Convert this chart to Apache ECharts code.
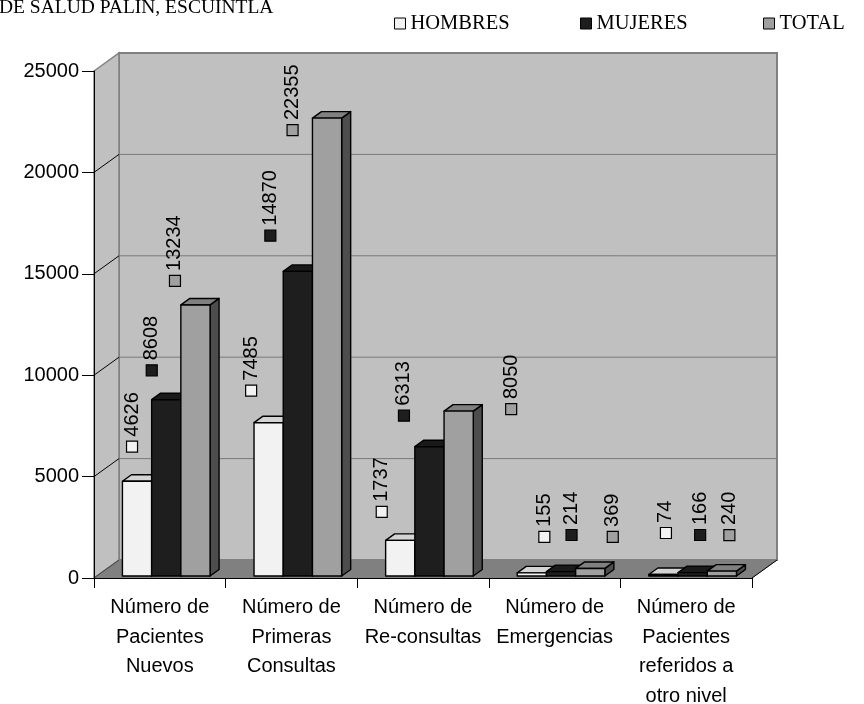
<!DOCTYPE html>
<html>
<head>
<meta charset="utf-8">
<script src="https://cdn.jsdelivr.net/npm/echarts@6/dist/echarts.min.js"></script>
<style>
  html, body { margin: 0; padding: 0; background: #ffffff; }
  #chart { width: 864px; height: 704px; }
</style>
</head>
<body>
<div id="chart"></div>
<script>
// ---- data ----
const categories = [
  'Número de\nPacientes\nNuevos',
  'Número de\nPrimeras\nConsultas',
  'Número de\nRe-consultas',
  'Número de\nEmergencias',
  'Número de\nPacientes\nreferidos a\notro nivel'
];
const seriesNames = ['HOMBRES', 'MUJERES', 'TOTAL'];
const hombres = [4626, 7485, 1737, 155, 74];
const mujeres = [8608, 14870, 6313, 214, 166];
const total = [13234, 22355, 8050, 369, 240];
const yTicks = [0, 5000, 10000, 15000, 20000, 25000];
const titleText = 'DE SALUD PALIN, ESCUINTLA';

// ---- layout & style ----
const seriesValues = [hombres, mujeres, total];
const DEPTH_X = 25, DEPTH_Y = 18;      // depth of the walls / floor
const BAR_DX = 9, BAR_DY = 6.5;        // depth of each column
const BAR_LEAD = 0.216, BAR_FRAC = 0.222;
const BAR_LIFT = 2, BAR_SCALE = 1.01;
const SANS = '"Liberation Sans", Arial, sans-serif';
const SERIF = '"Liberation Serif", "Times New Roman", serif';
const faces = [
  { front: '#f2f2f2', top: '#d4d4d4', side: '#b0b0b0' },
  { front: '#1e1e1e', top: '#1a1a1a', side: '#111111' },
  { front: '#a0a0a0', top: '#808080', side: '#4d4d4d' }
];
// value-label nudges (square centre relative to the column's top-front centre)
const labelOffsets = [
  [[-5, -34.6], [-17.5, -32], [-18.5, -28.6], [12.5, -36], [2.5, -41.5]],
  [[-14.5, -29.4], [-27.5, -35.7], [-25.5, -31], [10.5, -36.6], [7.5, -37.6]],
  [[-20.5, -24], [-34.5, 12], [52.5, -2], [22.5, -31.5], [7.5, -36]]
];
const legendLeft = [389, 575, 758];

function barBox(api, cat, s, v) {
  const base = api.coord([cat, 0]);
  const top = api.coord([cat, v]);
  const band = api.size([1, 0])[0];
  const w = band * BAR_FRAC;
  const x0 = base[0] - band / 2 + band * BAR_LEAD + s * w;
  const y0 = base[1] - BAR_LIFT;
  const y1 = y0 - (base[1] - top[1]) * BAR_SCALE;
  return { x0, w, y0, y1 };
}

function renderWalls(params, api) {
  const band = api.size([1, 0])[0];
  const left = api.coord([0, 0])[0] - band / 2;
  const right = api.coord([categories.length - 1, 0])[0] + band / 2;
  const yBase = api.coord([0, 0])[1];
  const yTop = api.coord([0, yTicks[yTicks.length - 1]])[1];
  const bx = left + DEPTH_X, rx = right + DEPTH_X;
  const children = [
    { type: 'rect', shape: { x: bx, y: yTop - DEPTH_Y, width: rx - bx, height: yBase - yTop },
      style: { fill: '#c0c0c0', stroke: '#808080', lineWidth: 2 } },
    { type: 'polygon', shape: { points: [[left, yTop], [bx, yTop - DEPTH_Y], [bx, yBase - DEPTH_Y], [left, yBase]] },
      style: { fill: '#c0c0c0', stroke: '#808080', lineWidth: 1.5 } },
    { type: 'polygon', shape: { points: [[left, yBase], [bx, yBase - DEPTH_Y], [rx, yBase - DEPTH_Y], [right, yBase]] },
      style: { fill: '#808080', stroke: '#808080', lineWidth: 1 } },
    { type: 'line', shape: { x1: right, y1: yBase, x2: rx, y2: yBase - DEPTH_Y },
      style: { stroke: '#000', lineWidth: 1 } },
    { type: 'line', shape: { x1: left, y1: yBase, x2: bx, y2: yBase - DEPTH_Y },
      style: { stroke: '#404040', lineWidth: 1 } }
  ];
  yTicks.slice(1, -1).forEach(t => {
    const y = api.coord([0, t])[1];
    children.push({ type: 'line', shape: { x1: bx, y1: y - DEPTH_Y, x2: rx, y2: y - DEPTH_Y },
      style: { stroke: '#7a7a7a', lineWidth: 1 } });
    children.push({ type: 'line', shape: { x1: left, y1: y, x2: bx, y2: y - DEPTH_Y },
      style: { stroke: '#000', lineWidth: 1 } });
  });
  return { type: 'group', children };
}

function barRenderer(s) {
  return function (params, api) {
    const b = barBox(api, api.value(0), s, api.value(1));
    const f = faces[s];
    const edge = { stroke: '#000', lineWidth: 1.4, lineJoin: 'round' };
    const xr = b.x0 + b.w;
    return {
      type: 'group',
      children: [
        { type: 'polygon', shape: { points: [[xr, b.y1], [xr + BAR_DX, b.y1 - BAR_DY], [xr + BAR_DX, b.y0 - BAR_DY], [xr, b.y0]] },
          style: Object.assign({ fill: f.side }, edge) },
        { type: 'polygon', shape: { points: [[b.x0, b.y1], [xr, b.y1], [xr + BAR_DX, b.y1 - BAR_DY], [b.x0 + BAR_DX, b.y1 - BAR_DY]] },
          style: Object.assign({ fill: f.top }, edge) },
        { type: 'rect', shape: { x: b.x0, y: b.y1, width: b.w, height: b.y0 - b.y1 },
          style: Object.assign({ fill: f.front }, edge) }
      ]
    };
  };
}

function renderLabel(params, api) {
  const cat = api.value(0), v = api.value(1), s = api.value(2);
  const b = barBox(api, cat, s, v);
  const off = labelOffsets[s][cat];
  const cx = b.x0 + b.w / 2 + off[0];
  const cy = b.y1 + off[1];
  return {
    type: 'group',
    children: [
      { type: 'rect', shape: { x: cx - 5.5, y: cy - 5.5, width: 11, height: 11 },
        style: { fill: faces[s].front, stroke: '#000', lineWidth: 1.2 } },
      { type: 'text', x: cx, y: cy - 10, rotation: Math.PI / 2,
        style: { text: String(v), font: '20px ' + SANS, fill: '#000', align: 'left', verticalAlign: 'middle' } }
    ]
  };
}

const labelRows = [];
seriesValues.forEach((vals, s) => vals.forEach((v, i) => labelRows.push([i, v, s])));

const chart = echarts.init(document.getElementById('chart'), null, { renderer: 'canvas' });
chart.setOption({
  animation: false,
  backgroundColor: '#ffffff',
  graphic: [{
    type: 'text', x: -1, y: -2,
    style: { text: titleText, font: '19.5px ' + SERIF, fill: '#000', align: 'left', verticalAlign: 'top' }
  }],
  legend: seriesNames.map((n, i) => ({
    data: [n], left: legendLeft[i], top: 8, itemWidth: 11, itemHeight: 11, icon: 'rect',
    selectedMode: false,
    itemStyle: { borderColor: '#000', borderWidth: 1 },
    textStyle: { fontFamily: SERIF, fontSize: 20.5, color: '#000' }
  })),
  grid: { left: 94, right: 112, top: 71, bottom: 126, containLabel: false, outerBoundsMode: 'none' },
  xAxis: {
    type: 'category', data: categories, z: 5,
    axisLine: { show: true, lineStyle: { color: '#000', width: 1 } },
    axisTick: { show: true, length: 10, interval: 0, lineStyle: { color: '#000' } },
    axisLabel: { interval: 0, margin: 15, fontFamily: SANS, fontSize: 20, lineHeight: 29.5, color: '#000' },
    splitLine: { show: false }
  },
  yAxis: {
    type: 'value', min: 0, max: 25000, interval: 5000, z: 5,
    axisLine: { show: true, lineStyle: { color: '#000', width: 1 } },
    axisTick: { show: true, length: 12, lineStyle: { color: '#000' } },
    axisLabel: { margin: 15, fontFamily: SANS, fontSize: 20, color: '#000', formatter: v => String(v) },
    splitLine: { show: false }
  },
  series: [
    { type: 'custom', name: 'walls', z: 1, renderItem: renderWalls, data: [[0, 0]], encode: { x: 0, y: 1 }, silent: true },
    ...seriesNames.map((n, s) => ({
      type: 'custom', name: n, z: 2, renderItem: barRenderer(s),
      itemStyle: { color: faces[s].front, borderColor: '#000', borderWidth: 1 },
      data: seriesValues[s].map((v, i) => [i, v]), encode: { x: 0, y: 1 }
    })),
    { type: 'custom', name: 'labels', z: 3, renderItem: renderLabel, data: labelRows, encode: { x: 0, y: 1 }, silent: true }
  ]
});
</script>
</body>
</html>
